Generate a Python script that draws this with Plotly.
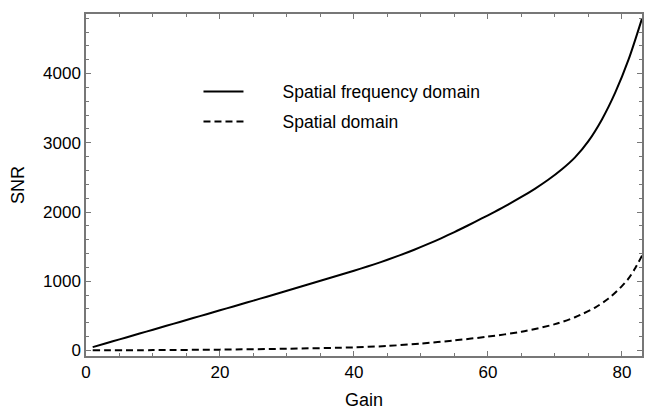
import plotly.graph_objects as go

gain_freq = [1, 3, 5, 7, 9, 11, 13, 15, 17, 19, 21, 23, 25, 27, 29, 31, 33, 35, 37, 39, 41,
             43, 45, 47, 49, 51, 53, 55, 57, 59, 61, 63, 65, 67, 69, 71, 73, 75, 77, 79, 81, 83]
snr_freq = [48, 104, 160, 216, 272, 328, 384, 440, 496, 552, 608, 664, 720, 777, 834, 891, 948, 1006, 1064, 1122, 1182,
            1244, 1310, 1380, 1455, 1535, 1620, 1710, 1805, 1903, 2003, 2107, 2217, 2335, 2465, 2613, 2789, 3024, 3334, 3724, 4204, 4794]

gain_spat = [1, 10, 20, 30, 40, 45, 50, 55, 60, 65, 70, 73, 76, 78, 80, 81, 82, 83]
snr_spat = [2, 5, 12, 25, 45, 65, 100, 145, 200, 270, 380, 480, 620, 750, 930, 1040, 1190, 1370]

name_freq = "Spatial frequency domain"
name_spat = "Spatial domain"

FONT = "Liberation Sans, Arial, sans-serif"
PAD = "\u00a0" * 7

fig = go.Figure()
fig.add_trace(go.Scatter(x=gain_freq, y=snr_freq, mode="lines", name=PAD + name_freq,
                         line=dict(color="black", width=2, shape="spline", smoothing=0.8), legend="legend"))
fig.add_trace(go.Scatter(x=gain_spat, y=snr_spat, mode="lines", name=PAD + name_spat,
                         line=dict(color="black", width=2, dash="7px,4px", shape="spline", smoothing=0.8), legend="legend2"))

axis_common = dict(showline=True, mirror="allticks", linecolor="#777", linewidth=1.5,
                   ticks="inside", tickcolor="#777", ticklen=5, tickwidth=1,
                   showgrid=False, zeroline=False, automargin=False,
                   tickfont=dict(size=17, color="black", family=FONT))

fig.update_xaxes(range=[0, 83], dtick=20, tick0=0,
                 minor=dict(dtick=5, ticks="inside", ticklen=3, tickcolor="#777", showgrid=False),
                 title=dict(text="Gain", font=dict(size=18, color="black", family=FONT), standoff=14),
                 **axis_common)
fig.update_yaxes(range=[-80, 4860], dtick=1000, tick0=0,
                 minor=dict(dtick=200, ticks="inside", ticklen=3, tickcolor="#777", showgrid=False),
                 title=dict(text="SNR", font=dict(size=18, color="black", family=FONT), standoff=14),
                 **axis_common)

legend_common = dict(bgcolor="rgba(0,0,0,0)", font=dict(size=17.5, color="black", family=FONT),
                     xanchor="left", yanchor="middle", itemwidth=40)

fig.update_layout(
    width=648, height=410,
    margin=dict(l=86, r=6, t=14, b=54),
    paper_bgcolor="white", plot_bgcolor="white",
    font=dict(family=FONT, color="black"),
    showlegend=True,
    legend=dict(x=0.2023, y=0.773, **legend_common),
    legend2=dict(x=0.2023, y=0.685, **legend_common),
)

fig.write_html("out.html")
